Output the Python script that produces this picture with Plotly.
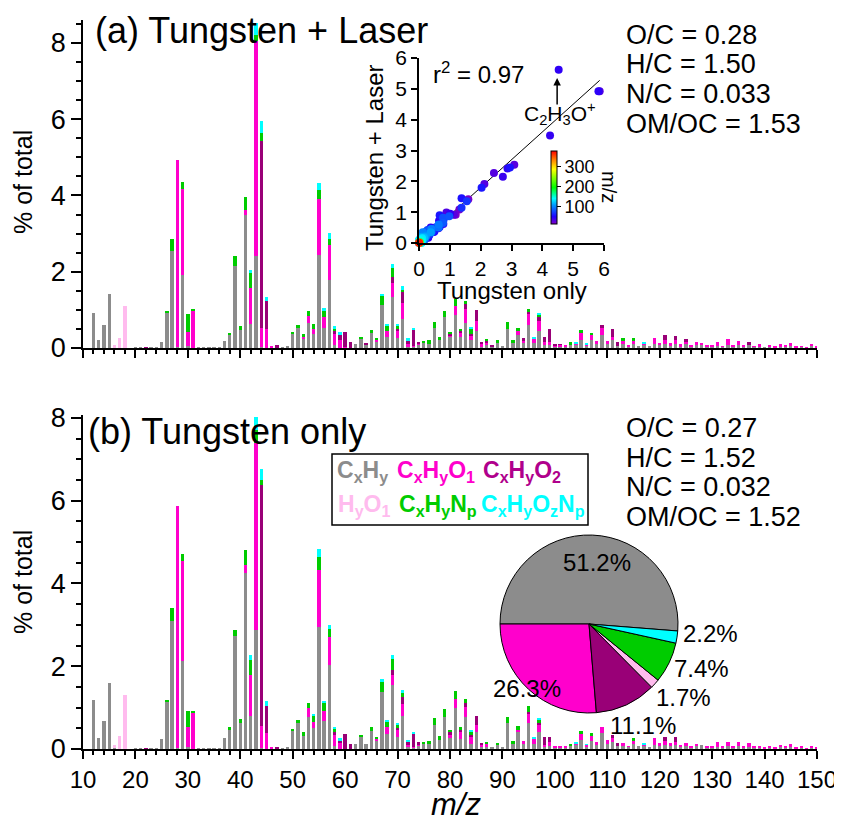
import plotly.graph_objects as go

W, H = 842, 820
OFF = 8  # page body margin of the html page
FONT = "Liberation Sans, Arial, sans-serif"

MZ = list(range(12, 151))
CATS = ["CxHy", "CxHyO1", "CxHyO2", "HyO1", "CxHyNp", "CxHyOzNp"]
COLORS = {"CxHy": "#8c8c8c", "CxHyO1": "#ff00cc", "CxHyO2": "#990077",
          "HyO1": "#ffbbee", "CxHyNp": "#00cc00", "CxHyOzNp": "#00ffff"}
LEGEND_COLORS = {"CxHy": "#8c8c8c", "CxHyO1": "#ff00cc", "CxHyO2": "#b0008c",
                 "HyO1": "#ffbbee", "CxHyNp": "#00cc00", "CxHyOzNp": "#00ffff"}

# ---------------- (a) Tungsten + Laser : per-family signal (% of total) ----------------
A_CH = {12:.92,13:.21,14:.61,15:1.42,16:.02,20:.01,21:.01,23:.01,24:.01,25:.17,26:.92,27:2.54,28:.02,29:1.91,30:.04,
        32:.01,33:.01,34:.01,35:.01,36:.01,37:.19,38:.36,39:2.15,40:.48,41:3.49,42:.62,43:2.42,44:.02,48:.01,49:.05,
        50:.37,51:.55,52:.24,53:.65,54:.37,55:2.45,56:.52,57:1.79,58:.08,62:.1,63:.25,64:.1,65:.4,66:.18,67:1.14,68:.3,
        69:1.35,70:.27,71:.76,72:.05,73:.03,74:.08,75:.12,76:.1,77:.52,78:.2,79:.82,80:.28,81:.87,82:.28,83:.65,84:.2,
        85:.45,86:.05,87:.1,88:.05,89:.15,90:.05,91:.5,92:.15,93:.35,94:.12,95:.6,96:.12,97:.45,98:.08,99:.1,100:.04,
        101:.04,102:.05,103:.1,104:.1,105:.22,106:.06,107:.2,108:.1,109:.35,110:.1,111:.2,112:.06,113:.1,114:.05,115:.1,
        116:.05,117:.08,118:.04,119:.1,120:.08,121:.1,122:.06,123:.1,124:.05,125:.1,126:.04,127:.08,128:.08,129:.04,
        130:.03,131:.05,132:.03,133:.08,134:.04,135:.07,136:.04,137:.07,138:.03,139:.05,140:.02,141:.04,142:.02,143:.05,
        144:.04,145:.06,146:.02,147:.03,148:.01,149:.04,150:.02}
A_O1 = {28:4.92,29:2.27,30:.38,31:.99,41:.14,42:.95,43:5.62,44:.5,45:.5,46:.05,52:.06,53:.2,54:.13,55:1.45,56:.3,57:.9,
        58:.3,59:.2,60:.02,66:.04,68:.15,69:.35,70:.18,71:.42,72:.05,73:.03,74:.04,80:.06,81:.23,82:.12,83:.38,84:.12,
        85:.25,86:.05,87:.05,93:.1,94:.08,95:.28,96:.13,97:.25,98:.07,99:.05,100:.03,101:.04,102:.03,104:.03,105:.18,
        106:.04,107:.15,108:.08,109:.2,110:.09,111:.1,113:.1,114:.03,115:.1,117:.05,119:.17,120:.06,121:.1,122:.06,
        123:.12,124:.05,125:.08,126:.04,127:.08,128:.06,129:.04,130:.03,131:.12,132:.02,133:.15,134:.04,135:.12,136:.04,
        138:.02,139:.05,141:.04,142:.02,143:.05,144:.03,145:.07,146:.02,147:.02,148:.01,149:.06,150:.02}
A_O2 = {22:.01,44:4.92,45:.72,47:.07,58:.07,59:.15,60:.4,61:.15,64:.02,69:.17,70:.05,71:.28,72:.1,73:.42,74:.04,80:.03,
        82:.04,83:.12,84:.04,85:.3,86:.06,87:.04,88:.03,94:.05,95:.07,97:.1,98:.15,99:.35,100:.03,101:.02,109:.05,111:.2,
        112:.11,121:.13,123:.1,125:.05,137:.1}
A_HO = {16:.05,17:.26,18:1.09}
A_N = {26:.06,27:.32,29:.16,30:.47,31:.03,38:.04,39:.25,40:.09,41:.34,42:.39,43:.17,44:.19,50:.03,51:.05,52:.08,53:.12,
       54:.13,55:.25,56:.15,57:.18,58:.07,63:.05,65:.08,66:.05,67:.24,68:.12,69:.23,70:.07,71:.07,75:.06,76:.1,77:.16,
       78:.08,79:.14,80:.05,81:.18,82:.06,83:.08,84:.14,87:.05,89:.05,91:.18,92:.05,93:.07,95:.07,97:.08,103:.05,
       105:.07,107:.05,113:.05,115:.05}
A_ON = {42:.08,43:.32,44:.31,45:.13,55:.18,56:.07,57:.14,58:.05,59:.07,67:.02,68:.06,69:.1,70:.06,71:.1,72:.05,73:.04,
        84:.05,96:.05,97:.05,104:.02,106:.02,117:.03}

# ---------------- (b) Tungsten only ----------------
B_CH = {12:1.19,13:.27,14:.68,15:1.6,16:.03,20:.01,21:.01,23:.01,24:.01,25:.23,26:1.13,27:3.09,28:.02,29:2.12,30:.06,
        32:.01,33:.01,34:.01,35:.01,36:.01,37:.27,38:.48,39:2.72,40:.63,41:4.25,42:.79,43:2.87,44:.02,48:.01,49:.06,
        50:.45,51:.63,52:.32,53:.78,54:.5,55:2.95,56:.67,57:2.03,58:.08,62:.12,63:.28,64:.11,65:.44,66:.2,67:1.38,68:.36,
        69:1.55,70:.3,71:.8,72:.05,73:.03,74:.08,75:.14,76:.12,77:.58,78:.22,79:.78,80:.26,81:.98,82:.23,83:.78,84:.11,
        85:.42,86:.05,87:.06,88:.06,89:.11,90:.06,91:.64,92:.12,93:.4,94:.12,95:.64,96:.12,97:.4,98:.06,99:.08,100:.04,
        101:.04,102:.04,103:.08,104:.1,105:.22,106:.07,107:.2,108:.1,109:.38,110:.12,111:.18,112:.08,113:.08,114:.05,
        115:.12,116:.07,117:.08,118:.06,119:.1,120:.08,121:.1,122:.07,123:.1,124:.05,125:.08,126:.04,127:.07,128:.1,
        129:.04,130:.04,131:.06,132:.04,133:.08,134:.04,135:.07,136:.03,137:.06,138:.03,139:.03,140:.02,141:.04,142:.02,
        143:.05,144:.03,145:.05,146:.02,147:.03,148:.01,149:.04,150:.02}
B_O1 = {28:5.86,29:2.43,30:.46,31:.89,41:.19,42:1.01,43:4.53,44:.53,45:.38,46:.05,53:.2,54:.15,55:1.38,56:.26,57:.67,
        58:.26,59:.15,66:.04,68:.18,69:.25,70:.16,71:.28,72:.05,73:.03,74:.04,80:.1,81:.22,82:.19,83:.24,84:.19,85:.16,
        86:.04,87:.06,93:.06,94:.08,95:.22,96:.11,97:.18,98:.04,99:.1,100:.04,101:.03,102:.02,104:.03,105:.14,106:.03,
        107:.11,108:.06,109:.16,110:.1,111:.08,113:.06,114:.02,115:.08,117:.04,119:.16,120:.07,121:.1,122:.07,123:.08,
        124:.05,125:.06,126:.02,127:.05,129:.03,130:.02,131:.1,132:.02,133:.1,134:.03,135:.09,136:.03,137:.08,138:.02,
        139:.03,140:.01,141:.03,142:.01,143:.05,144:.02,145:.07,146:.02,147:.02,148:.01,149:.04,150:.01}
B_O2 = {22:.02,44:5.82,45:.65,47:.05,58:.08,59:.05,60:.36,61:.12,69:.12,70:.05,71:.18,72:.07,73:.32,74:.04,80:.04,
        82:.03,83:.1,84:.04,85:.22,86:.05,95:.04,97:.06,98:.18,99:.12,111:.09,112:.06,121:.1,123:.1}
B_HO = {16:.06,17:.32,18:1.31}
B_N = {26:.06,27:.32,29:.15,30:.41,31:.04,38:.04,39:.16,40:.1,41:.38,42:.36,43:.3,44:.14,50:.03,51:.07,52:.09,53:.12,
       54:.15,55:.32,56:.17,57:.2,58:.07,63:.06,65:.09,66:.05,67:.26,68:.12,69:.25,70:.07,71:.1,75:.04,76:.08,77:.16,
       78:.1,79:.19,80:.05,81:.21,82:.07,83:.08,84:.08,87:.06,89:.04,91:.14,92:.08,93:.1,95:.14,97:.06,103:.04,
       105:.07,107:.07,115:.06}
B_ON = {42:.1,43:.33,44:.26,45:.12,54:.03,55:.18,56:.05,57:.1,58:.03,59:.07,67:.04,68:.04,69:.1,70:.06,71:.07,72:.03,
        73:.03,84:.04,96:.07,97:.06,104:.03,106:.02,117:.03}

# ions above m/z 150 (only visible in the inset, all near zero)
HIGH_MZ = [160, 190, 220, 260, 300, 340, 370]
HIGH_A = [0.03, 0.02, 0.02, 0.01, 0.01, 0.005, 0.005]
HIGH_B = [0.03, 0.02, 0.02, 0.01, 0.01, 0.005, 0.005]

STATS_A = ["O/C = 0.28", "H/C = 1.50", "N/C = 0.033", "OM/OC = 1.53"]
STATS_B = ["O/C = 0.27", "H/C = 1.52", "N/C = 0.032", "OM/OC = 1.52"]
PIE_VALUES = [51.2, 26.3, 11.1, 1.7, 7.4, 2.2]
R2_TEXT = "r<sup>2</sup> = 0.97"
FIT_SLOPE = 0.90
X_TICKS = list(range(10, 151, 10))
CB_TICKS = [100, 200, 300]

A = {"CxHy": A_CH, "CxHyO1": A_O1, "CxHyO2": A_O2, "HyO1": A_HO, "CxHyNp": A_N, "CxHyOzNp": A_ON}
B = {"CxHy": B_CH, "CxHyO1": B_O1, "CxHyO2": B_O2, "HyO1": B_HO, "CxHyNp": B_N, "CxHyOzNp": B_ON}


def px_x(p):
    return (p - OFF) / W


def px_y(p):
    return 1 - (p - OFF) / H


fig = go.Figure()

for cat in CATS:
    for data, xa, ya in ((A, "x2", "y2"), (B, "x", "y")):
        fig.add_trace(go.Bar(x=MZ, y=[data[cat].get(m, 0) for m in MZ], xaxis=xa, yaxis=ya,
                             width=0.64, marker=dict(color=COLORS[cat], line=dict(width=0)),
                             showlegend=False, hoverinfo="skip"))

# inset scatter (ion by ion: Tungsten only vs Tungsten + Laser)
pts = []
for cat in CATS:
    for m in MZ:
        a = A[cat].get(m, 0)
        b = B[cat].get(m, 0)
        if a > 0 or b > 0:
            pts.append((m, b, a))
for m, a, b in zip(HIGH_MZ, HIGH_A, HIGH_B):
    pts.append((m, b, a))
pts.sort(key=lambda t: t[0])
sx = [p[1] for p in pts]
sy = [p[2] for p in pts]
sc = [p[0] for p in pts]

xmax = max(sx)
fig.add_trace(go.Scatter(x=[0, xmax], y=[0, FIT_SLOPE * xmax], mode="lines", xaxis="x3", yaxis="y3",
                         line=dict(color="black", width=1), showlegend=False, hoverinfo="skip"))

CSCALE = [[0.0, "#8000c8"], [0.1, "#2000ff"], [0.25, "#0090ff"], [0.35, "#00ffff"],
          [0.5, "#00ff00"], [0.75, "#ffff00"], [0.88, "#ff8000"], [1.0, "#ff0000"]]
fig.add_trace(go.Scatter(
    x=sx, y=sy, mode="markers", xaxis="x3", yaxis="y3", cliponaxis=False, showlegend=False,
    marker=dict(size=8, color=sc, colorscale=CSCALE, cmin=12, cmax=380, line=dict(width=0),
                colorbar=dict(x=px_x(551), xanchor="left", y=px_y(187.5), yanchor="middle",
                              len=73 / H, lenmode="fraction", thickness=6, thicknessmode="pixels",
                              outlinewidth=1, outlinecolor="black", xpad=0, ypad=0,
                              tickvals=CB_TICKS, ticks="outside", ticklen=4, tickcolor="black",
                              tickfont=dict(family=FONT, size=18, color="black"))),
    hoverinfo="skip"))

# pie
fig.add_trace(go.Pie(values=PIE_VALUES, labels=CATS, sort=False, direction="counterclockwise",
                     rotation=-90, textinfo="none", showlegend=False, hoverinfo="skip",
                     marker=dict(colors=[COLORS[c] for c in CATS], line=dict(color="black", width=1)),
                     domain=dict(x=[px_x(500), px_x(678)], y=[px_y(713), px_y(535)])))

axis_common = dict(showline=True, linecolor="black", linewidth=1.5, ticks="outside", tickcolor="black",
                   tickwidth=1.5, showgrid=False, zeroline=False, mirror=False, automargin=False)
xdom = [px_x(83), px_x(817)]
minor_x = dict(dtick=2, tick0=10, ticklen=4, ticks="outside", tickcolor="black", tickwidth=1.5)
minor_y = dict(dtick=0.5, ticklen=5, ticks="outside", tickcolor="black", tickwidth=1.5)

fig.update_layout(
    width=W, height=H, autosize=False, margin=dict(l=0, r=0, t=0, b=0, autoexpand=False),
    paper_bgcolor="white", plot_bgcolor="rgba(0,0,0,0)", barmode="stack", bargap=0,
    font=dict(family=FONT, color="black"),
    xaxis=dict(domain=xdom, anchor="y", range=[10, 150], tickvals=X_TICKS, ticklen=8, minor=minor_x,
               tickfont=dict(size=24), **axis_common),
    yaxis=dict(domain=[px_y(749), px_y(415)], anchor="x", range=[0, 8.07], dtick=2, ticklen=10,
               minor=minor_y, tickfont=dict(size=27), **axis_common),
    xaxis2=dict(domain=xdom, anchor="y2", range=[10, 150], tickvals=X_TICKS, ticklen=8, showticklabels=False,
                minor=minor_x, **axis_common),
    yaxis2=dict(domain=[px_y(348), px_y(20)], anchor="x2", range=[0, 8.6], dtick=2, ticklen=10,
                minor=minor_y, tickfont=dict(size=27), **axis_common),
    xaxis3=dict(domain=[px_x(419), px_x(604)], anchor="y3", range=[0, 6], dtick=1, ticklen=6,
                tickfont=dict(size=21), **axis_common),
    yaxis3=dict(domain=[px_y(243), px_y(58)], anchor="x3", range=[0, 6], dtick=1, ticklen=6,
                tickfont=dict(size=21), **axis_common),
)

ann = []


def text(x, y, t, size, xanchor="left", angle=0, color="black", xref="paper", yref="paper", italic=False):
    if xref == "paper":
        x = px_x(x)
    if yref == "paper":
        y = px_y(y)
    ann.append(dict(x=x, y=y, xref=xref, yref=yref, text=t, showarrow=False, xanchor=xanchor,
                    yanchor="middle", textangle=angle,
                    font=dict(family=FONT, size=size, color=color, style="italic" if italic else "normal")))


text(93, 30, "(a) Tungsten + Laser", 36)
text(86, 431, "(b) Tungsten only", 36)
text(23, 182, "% of total", 25, xanchor="center", angle=-90)
text(23, 582, "% of total", 25, xanchor="center", angle=-90)
text(456, 804, "m/z", 31, xanchor="center", italic=True)
for i, s in enumerate(STATS_A):
    text(624, 35 + 29.5 * i, s, 27)
for i, s in enumerate(STATS_B):
    text(624, 428 + 29.5 * i, s, 27)

# inset labels
text(375, 158, "Tungsten + Laser", 24, xanchor="center", angle=-90)
text(512, 290, "Tungsten only", 24, xanchor="center")
text(431, 73, R2_TEXT, 24)
text(609, 187, "m/z", 20, xanchor="center", angle=90)
text(560, 113, "C<sub>2</sub>H<sub>3</sub>O<sup>+</sup>", 21, xanchor="center")
ann.append(dict(x=4.48, y=5.35, ax=4.48, ay=4.44, xref="x3", yref="y3", axref="x3", ayref="y3",
                showarrow=True, arrowhead=2, arrowsize=1, arrowwidth=1.5, arrowcolor="black", text=""))

# pie labels
pie_pos = [(597, 562), (527, 688), (643, 725), (683, 697), (701, 668), (710, 633)]
for i, v in enumerate(PIE_VALUES):
    text(pie_pos[i][0], pie_pos[i][1], f"{v:.1f}%", 24, xanchor="center")

# legend box
fig.add_shape(type="rect", xref="paper", yref="paper", x0=px_x(332), x1=px_x(588), y0=px_y(525), y1=px_y(454),
              line=dict(color="black", width=1.5), fillcolor="white", layer="above")
LEG = [("CxHy", 335, 472, "<b>C<sub>x</sub>H<sub>y</sub></b>"),
       ("CxHyO1", 395, 472, "<b>C<sub>x</sub>H<sub>y</sub>O<sub>1</sub></b>"),
       ("CxHyO2", 481, 472, "<b>C<sub>x</sub>H<sub>y</sub>O<sub>2</sub></b>"),
       ("HyO1", 336, 505, "<b>H<sub>y</sub>O<sub>1</sub></b>"),
       ("CxHyNp", 397, 505, "<b>C<sub>x</sub>H<sub>y</sub>N<sub>p</sub></b>"),
       ("CxHyOzNp", 479, 505, "<b>C<sub>x</sub>H<sub>y</sub>O<sub>z</sub>N<sub>p</sub></b>")]
for cat, x, y, t in LEG:
    text(x, y, t, 23, color=LEGEND_COLORS[cat])

fig.update_layout(annotations=ann)
fig.write_html("out.html")
